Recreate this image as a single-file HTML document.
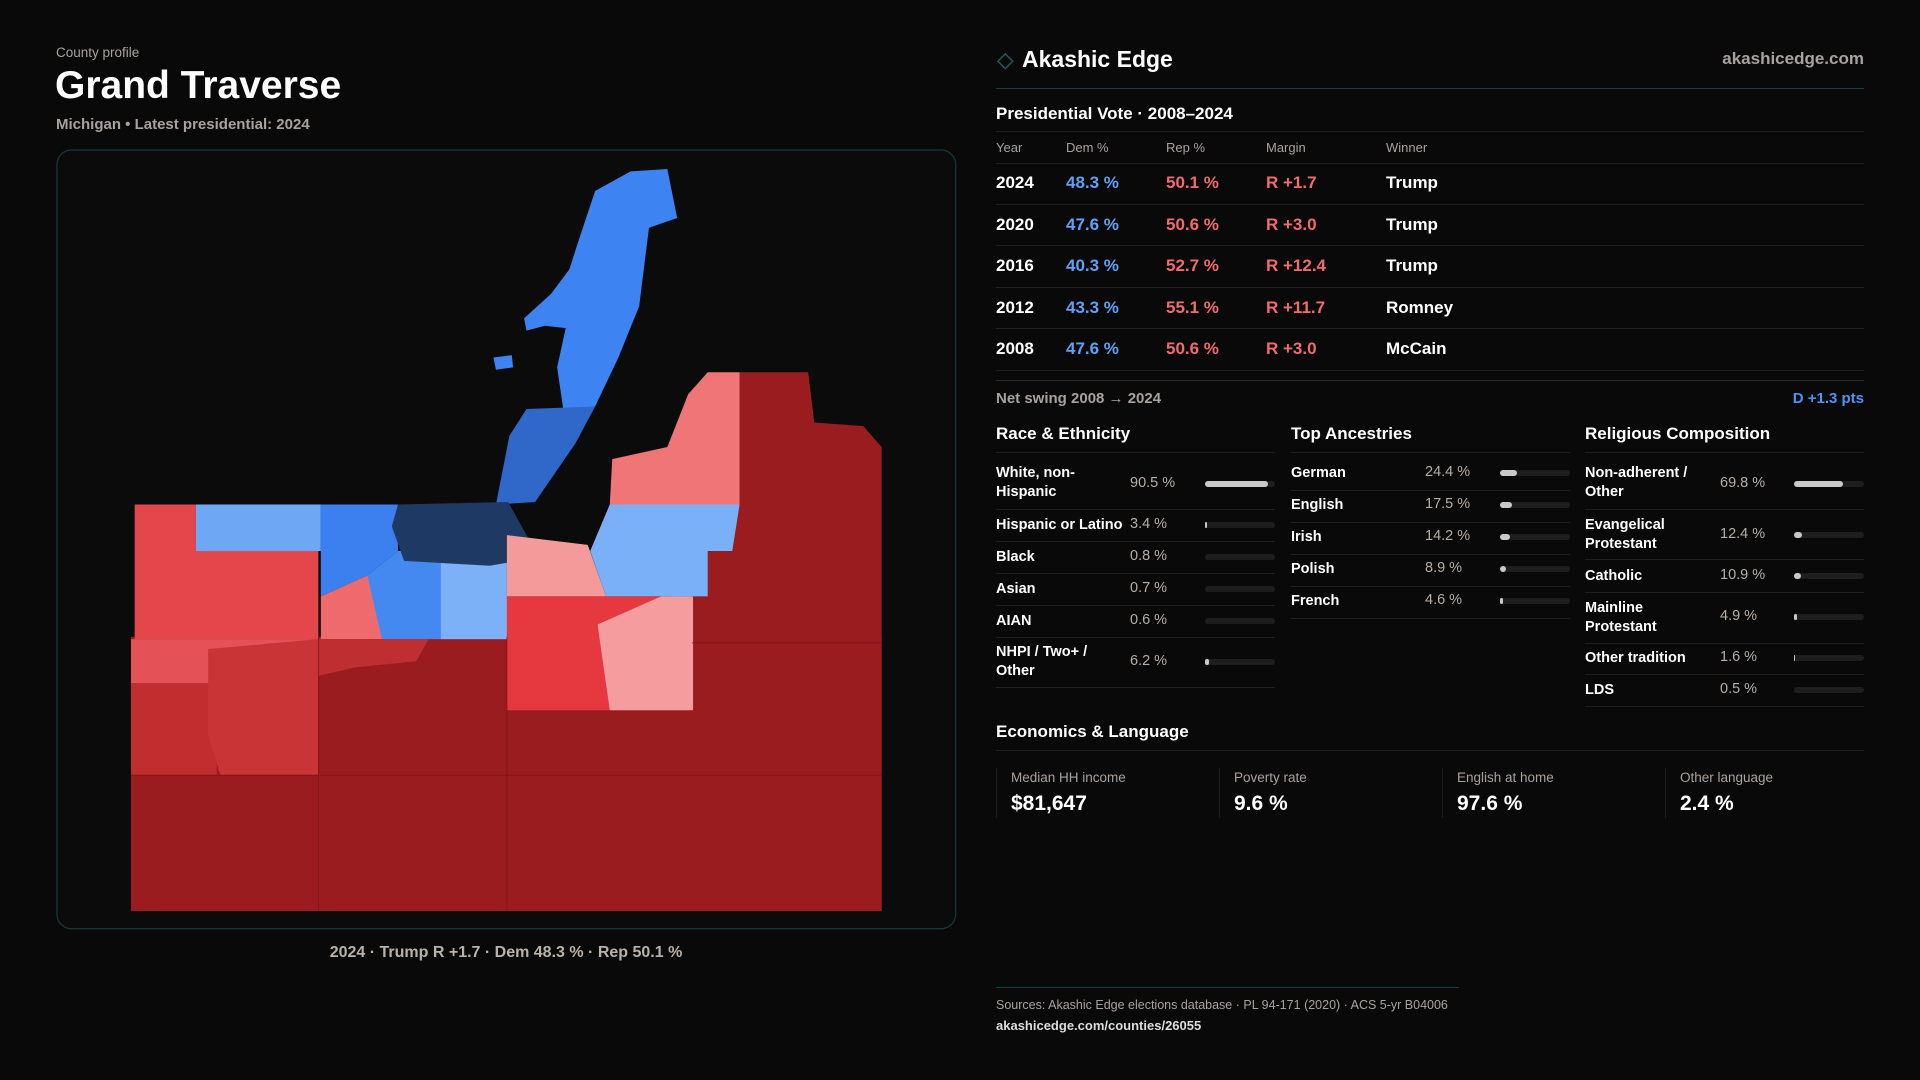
<!DOCTYPE html>
<html><head><meta charset="utf-8"><style>
*{margin:0;padding:0;box-sizing:border-box}
body{width:1920px;height:1080px;background:#0a0909;color:#fff;font-family:"Liberation Sans",sans-serif;position:relative;overflow:hidden}
.a{position:absolute;white-space:nowrap}
.g{color:#a8a29e}
.b{color:#5ea1f7}.r{color:#f26b6b}
.line{position:absolute;height:1px;background:#1f1f1f}
.bar{position:absolute;height:6px;border-radius:3px;background:#1e1e1e;width:70px}
.bar i{display:block;height:6px;border-radius:3px;background:#c9c9c9}
.lbl{font-size:14.5px;font-weight:bold;line-height:19px}
.pct{font-size:14.5px;color:#b5aea8}
</style></head><body>
<svg class="a" style="left:0;top:0" width="1920" height="1080" viewBox="0 0 1568 882">
<rect x="46.5" y="122.5" width="734" height="636" rx="12" fill="#0b0b0b" stroke="#173a3e" stroke-width="1"/>
<rect x="107" y="520" width="613" height="224" fill="#9b1c1f"/>
<polygon points="578,450 604,412 604,304 660,304 665,345 705,348 720,365 720,744 565,744 566,487 578,487" fill="#9b1c1f"/>
<polygon points="515,140 545,138 553,178 530,186 522,250 505,292 486,332 460,334 455,300 462,268 445,266 430,270 428,260 450,240 465,220 472,198 486,156" fill="#3d84f2"/>
<polygon points="430,334 486,332 470,362 437,410 405,412 416,356" fill="#2f68c8"/>
<polygon points="403,292 418,290 419,300 405,302" fill="#3d84f2"/>
<polygon points="110,412 160,412 160,450 260,450 260,522 110,522" fill="#e4464c"/>
<rect x="107" y="522" width="153" height="36" fill="#e45258"/>
<rect x="107" y="558" width="70" height="75" fill="#c22e30"/>
<polygon points="170,530 260,522 260,633 180,633 170,600" fill="#c93537"/>
<rect x="160" y="412" width="102" height="38" fill="#6ea8f5"/>
<polygon points="262,412 325,412 325,450 300,470 262,487" fill="#3b80ee"/>
<polygon points="262,487 300,470 325,475 312,522 262,522" fill="#ef6a6c"/>
<polygon points="300,470 325,450 365,450 360,522 312,522" fill="#4489ef"/>
<rect x="360" y="450" width="54" height="72" fill="#7cb1f7"/>
<polygon points="325,412 415,410 440,455 400,462 330,458 320,430" fill="#1e3a64"/>
<polygon points="414,437 480,445 495,487 414,487" fill="#f59a9a"/>
<polygon points="498,412 604,412 598,450 578,450 578,487 495,487 482,450" fill="#7ab0f8"/>
<polygon points="578,304 604,304 604,412 498,412 500,375 545,365 562,322" fill="#f07577"/>
<polygon points="414,487 540,487 515,510 488,510 498,550 498,580 414,580" fill="#e6393f"/>
<polygon points="488,510 540,487 566,487 566,580 498,580" fill="#f59c9e"/>
<polygon points="260,522 350,522 340,540 290,545 260,552" fill="#bf2f31"/>
<g stroke="#7a1416" stroke-width="0.6" fill="none"><line x1="260" y1="520" x2="260" y2="744"/><line x1="414" y1="520" x2="414" y2="744"/><line x1="107" y1="633" x2="720" y2="633"/><line x1="565" y1="525" x2="720" y2="525"/></g>
<path d="M821 44 L827 50 L821 56 L815 50 Z" fill="none" stroke="#1e5a5e" stroke-width="1.2"/>
</svg>
<div class="a g" style="left:56px;top:45px;font-size:13.5px">County profile</div>
<div class="a" style="left:55px;top:64px;font-size:39px;font-weight:bold">Grand Traverse</div>
<div class="a g" style="left:56px;top:116px;font-size:15px;font-weight:bold">Michigan • Latest presidential: 2024</div>
<div class="a g" style="left:0;width:1012px;text-align:center;top:944px;font-size:16px;font-weight:bold;color:#b8b2ac">2024 · Trump R +1.7 · Dem 48.3 % · Rep 50.1 %</div>

<div class="a" style="left:1022px;top:46px;font-size:23px;font-weight:bold">Akashic Edge</div>
<div class="a g" style="left:1600px;width:264px;text-align:right;top:49px;font-size:17px;font-weight:bold">akashicedge.com</div>
<div class="line" style="left:996px;width:868px;top:88px;background:#163f45"></div>
<div class="a" style="left:996px;top:104px;font-size:17px;font-weight:bold">Presidential Vote · 2008–2024</div>
<div class="line" style="left:996px;width:868px;top:131px"></div>
<div class="a g" style="left:996px;top:140px;font-size:13px">Year</div>
<div class="a g" style="left:1066px;top:140px;font-size:13px">Dem %</div>
<div class="a g" style="left:1166px;top:140px;font-size:13px">Rep %</div>
<div class="a g" style="left:1266px;top:140px;font-size:13px">Margin</div>
<div class="a g" style="left:1386px;top:140px;font-size:13px">Winner</div>
<div class="line" style="left:996px;width:868px;top:163px"></div>
<div style="position:absolute;left:996px;top:163px;width:868px;font-size:17px;font-weight:bold">
<div style="position:relative;height:41.5px;border-bottom:1px solid #1f1f1f"><span class="a" style="left:0;top:10px">2024</span><span class="a b" style="left:70px;top:10px">48.3 %</span><span class="a r" style="left:170px;top:10px">50.1 %</span><span class="a r" style="left:270px;top:10px">R +1.7</span><span class="a" style="left:390px;top:10px">Trump</span></div>
<div style="position:relative;height:41.5px;border-bottom:1px solid #1f1f1f"><span class="a" style="left:0;top:10px">2020</span><span class="a b" style="left:70px;top:10px">47.6 %</span><span class="a r" style="left:170px;top:10px">50.6 %</span><span class="a r" style="left:270px;top:10px">R +3.0</span><span class="a" style="left:390px;top:10px">Trump</span></div>
<div style="position:relative;height:41.5px;border-bottom:1px solid #1f1f1f"><span class="a" style="left:0;top:10px">2016</span><span class="a b" style="left:70px;top:10px">40.3 %</span><span class="a r" style="left:170px;top:10px">52.7 %</span><span class="a r" style="left:270px;top:10px">R +12.4</span><span class="a" style="left:390px;top:10px">Trump</span></div>
<div style="position:relative;height:41.5px;border-bottom:1px solid #1f1f1f"><span class="a" style="left:0;top:10px">2012</span><span class="a b" style="left:70px;top:10px">43.3 %</span><span class="a r" style="left:170px;top:10px">55.1 %</span><span class="a r" style="left:270px;top:10px">R +11.7</span><span class="a" style="left:390px;top:10px">Romney</span></div>
<div style="position:relative;height:41.5px;border-bottom:1px solid #1f1f1f"><span class="a" style="left:0;top:10px">2008</span><span class="a b" style="left:70px;top:10px">47.6 %</span><span class="a r" style="left:170px;top:10px">50.6 %</span><span class="a r" style="left:270px;top:10px">R +3.0</span><span class="a" style="left:390px;top:10px">McCain</span></div>
</div>
<div class="line" style="left:996px;width:868px;top:380px;background:#2a2a2a"></div>
<div class="a g" style="left:996px;top:390px;font-size:15px;font-weight:bold">Net swing 2008 → 2024</div>
<div class="a b" style="left:1700px;width:164px;text-align:right;top:390px;font-size:15px;font-weight:bold;color:#4d94f5">D +1.3 pts</div>

<div class="a" style="left:996px;top:424px;font-size:17px;font-weight:bold">Race &amp; Ethnicity</div>
<div class="a" style="left:1291px;top:424px;font-size:17px;font-weight:bold">Top Ancestries</div>
<div class="a" style="left:1585px;top:424px;font-size:17px;font-weight:bold">Religious Composition</div>
<div class="line" style="left:996px;width:279px;top:452px"></div>
<div class="line" style="left:1291px;width:279px;top:452px"></div>
<div class="line" style="left:1585px;width:279px;top:452px"></div>

<div class="a lbl" style="left:996px;top:464px">White, non-<br>Hispanic</div><div class="a pct" style="left:1130px;top:475px">90.5 %</div><div class="bar" style="left:1205px;top:481px"><i style="width:63px"></i></div>
<div class="line" style="left:996px;width:279px;top:509px"></div>
<div class="a lbl" style="left:996px;top:516px">Hispanic or Latino</div><div class="a pct" style="left:1130px;top:516px">3.4 %</div><div class="bar" style="left:1205px;top:522px"><i style="width:2px"></i></div>
<div class="line" style="left:996px;width:279px;top:541px"></div>
<div class="a lbl" style="left:996px;top:548px">Black</div><div class="a pct" style="left:1130px;top:548px">0.8 %</div><div class="bar" style="left:1205px;top:554px"></div>
<div class="line" style="left:996px;width:279px;top:573px"></div>
<div class="a lbl" style="left:996px;top:580px">Asian</div><div class="a pct" style="left:1130px;top:580px">0.7 %</div><div class="bar" style="left:1205px;top:586px"></div>
<div class="line" style="left:996px;width:279px;top:605px"></div>
<div class="a lbl" style="left:996px;top:612px">AIAN</div><div class="a pct" style="left:1130px;top:612px">0.6 %</div><div class="bar" style="left:1205px;top:618px"></div>
<div class="line" style="left:996px;width:279px;top:637px"></div>
<div class="a lbl" style="left:996px;top:643px">NHPI / Two+ /<br>Other</div><div class="a pct" style="left:1130px;top:653px">6.2 %</div><div class="bar" style="left:1205px;top:659px"><i style="width:4px"></i></div>
<div class="line" style="left:996px;width:279px;top:687px"></div>

<div class="a lbl" style="left:1291px;top:464px">German</div><div class="a pct" style="left:1425px;top:464px">24.4 %</div><div class="bar" style="left:1500px;top:470px"><i style="width:17px"></i></div>
<div class="line" style="left:1291px;width:279px;top:490px"></div>
<div class="a lbl" style="left:1291px;top:496px">English</div><div class="a pct" style="left:1425px;top:496px">17.5 %</div><div class="bar" style="left:1500px;top:502px"><i style="width:12px"></i></div>
<div class="line" style="left:1291px;width:279px;top:522px"></div>
<div class="a lbl" style="left:1291px;top:528px">Irish</div><div class="a pct" style="left:1425px;top:528px">14.2 %</div><div class="bar" style="left:1500px;top:534px"><i style="width:10px"></i></div>
<div class="line" style="left:1291px;width:279px;top:554px"></div>
<div class="a lbl" style="left:1291px;top:560px">Polish</div><div class="a pct" style="left:1425px;top:560px">8.9 %</div><div class="bar" style="left:1500px;top:566px"><i style="width:6px"></i></div>
<div class="line" style="left:1291px;width:279px;top:586px"></div>
<div class="a lbl" style="left:1291px;top:592px">French</div><div class="a pct" style="left:1425px;top:592px">4.6 %</div><div class="bar" style="left:1500px;top:598px"><i style="width:3px"></i></div>
<div class="line" style="left:1291px;width:279px;top:618px"></div>

<div class="a lbl" style="left:1585px;top:464px">Non-adherent /<br>Other</div><div class="a pct" style="left:1720px;top:475px">69.8 %</div><div class="bar" style="left:1794px;top:481px"><i style="width:49px"></i></div>
<div class="line" style="left:1585px;width:279px;top:509px"></div>
<div class="a lbl" style="left:1585px;top:516px">Evangelical<br>Protestant</div><div class="a pct" style="left:1720px;top:526px">12.4 %</div><div class="bar" style="left:1794px;top:532px"><i style="width:8px"></i></div>
<div class="line" style="left:1585px;width:279px;top:559px"></div>
<div class="a lbl" style="left:1585px;top:567px">Catholic</div><div class="a pct" style="left:1720px;top:567px">10.9 %</div><div class="bar" style="left:1794px;top:573px"><i style="width:7px"></i></div>
<div class="line" style="left:1585px;width:279px;top:592px"></div>
<div class="a lbl" style="left:1585px;top:599px">Mainline<br>Protestant</div><div class="a pct" style="left:1720px;top:608px">4.9 %</div><div class="bar" style="left:1794px;top:614px"><i style="width:3px"></i></div>
<div class="line" style="left:1585px;width:279px;top:643px"></div>
<div class="a lbl" style="left:1585px;top:649px">Other tradition</div><div class="a pct" style="left:1720px;top:649px">1.6 %</div><div class="bar" style="left:1794px;top:655px"><i style="width:1px"></i></div>
<div class="line" style="left:1585px;width:279px;top:674px"></div>
<div class="a lbl" style="left:1585px;top:681px">LDS</div><div class="a pct" style="left:1720px;top:681px">0.5 %</div><div class="bar" style="left:1794px;top:687px"></div>
<div class="line" style="left:1585px;width:279px;top:706px"></div>

<div class="a" style="left:996px;top:722px;font-size:17px;font-weight:bold">Economics &amp; Language</div>
<div class="line" style="left:996px;width:868px;top:750px"></div>
<div class="line" style="left:996px;width:1px;height:50px;top:768px"></div>
<div class="line" style="left:1219px;width:1px;height:50px;top:768px"></div>
<div class="line" style="left:1442px;width:1px;height:50px;top:768px"></div>
<div class="line" style="left:1665px;width:1px;height:50px;top:768px"></div>
<div class="a g" style="left:1011px;top:770px;font-size:13.5px">Median HH income</div><div class="a" style="left:1011px;top:792px;font-size:21px;font-weight:bold">$81,647</div>
<div class="a g" style="left:1234px;top:770px;font-size:13.5px">Poverty rate</div><div class="a" style="left:1234px;top:792px;font-size:21px;font-weight:bold">9.6 %</div>
<div class="a g" style="left:1457px;top:770px;font-size:13.5px">English at home</div><div class="a" style="left:1457px;top:792px;font-size:21px;font-weight:bold">97.6 %</div>
<div class="a g" style="left:1680px;top:770px;font-size:13.5px">Other language</div><div class="a" style="left:1680px;top:792px;font-size:21px;font-weight:bold">2.4 %</div>

<div class="line" style="left:996px;width:463px;top:987px;background:#163f45"></div>
<div class="a g" style="left:996px;top:998px;font-size:12.5px">Sources: Akashic Edge elections database · PL 94-171 (2020) · ACS 5-yr B04006</div>
<div class="a" style="left:996px;top:1018px;font-size:13px;font-weight:bold;color:#ddd">akashicedge.com/counties/26055</div>
</body></html>
